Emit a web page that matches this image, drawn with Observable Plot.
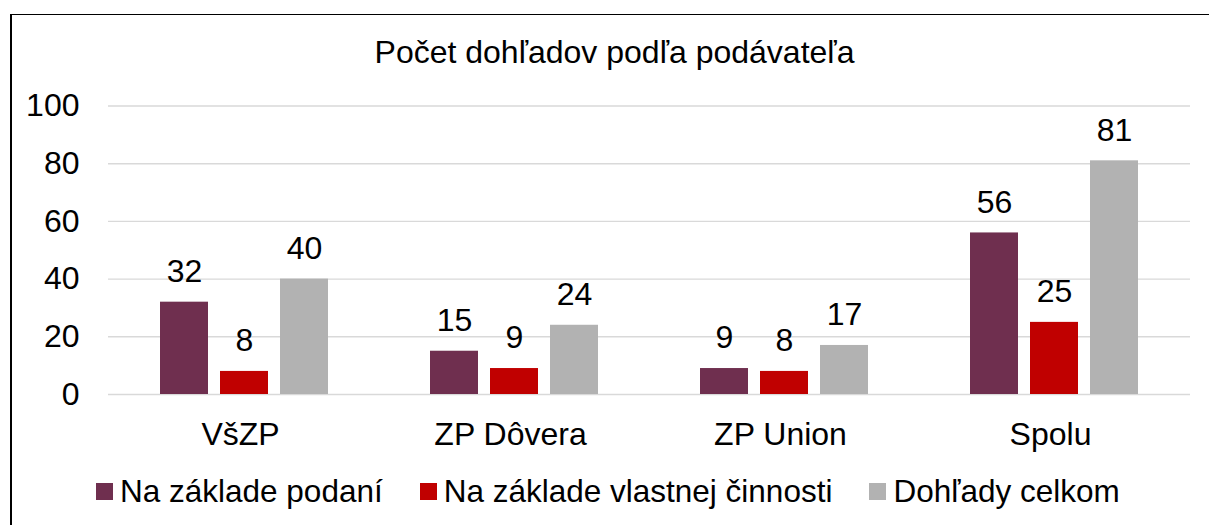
<!DOCTYPE html>
<html>
<head>
<meta charset="utf-8">
<script src="https://cdn.jsdelivr.net/npm/d3@7"></script>
<script src="https://cdn.jsdelivr.net/npm/@observablehq/plot@0.6"></script>
<style>
  body { margin: 0; background: #fff; }
  #wrap { position: relative; width: 1209px; height: 525px; overflow: hidden;
          font-family: "Liberation Sans", Arial, sans-serif; color: #000; background: #fff; }
  #border { position: absolute; left: 9.5px; top: 14px; width: 1300px; height: 600px;
            border-top: 1.5px solid #000; border-left: 2.5px solid #000; box-sizing: border-box; }
  #chart { position: absolute; left: 0; top: 0; }
  #title { position: absolute; left: 10px; width: 1209px; top: 36px; text-align: center;
           font-size: 32px; line-height: 32px; white-space: nowrap; }
  #legend { position: absolute; left: 96px; top: 475px; display: flex; align-items: center;
            font-size: 31.5px; line-height: 32px; white-space: nowrap; }
  .item { display: flex; align-items: center; margin-right: 37px; }
  .sw { width: 17px; height: 17px; margin-right: 7px; }
</style>
</head>
<body>
<div id="wrap">
  <div id="border"></div>
  <div id="chart"></div>
  <div id="title"></div>
  <div id="legend"></div>
</div>
<script>
const titleText = "Počet dohľadov podľa podávateľa";
const categories = ["VšZP", "ZP Dôvera", "ZP Union", "Spolu"];
const seriesNames = ["Na základe podaní", "Na základe vlastnej činnosti", "Dohľady celkom"];
const seriesColors = ["#6F2F4F", "#C00000", "#B2B2B2"];
const naZakladePodani = [32, 15, 9, 56];
const vlastnejCinnosti = [8, 9, 8, 25];
const dohladyCelkom = [40, 24, 17, 81];
const yTicks = [0, 20, 40, 60, 80, 100];

const seriesValues = [naZakladePodani, vlastnejCinnosti, dohladyCelkom];
const rows = [];
seriesNames.forEach((s, k) => {
  categories.forEach((c, i) => rows.push({ cat: c, series: s, value: seriesValues[k][i], k }));
});

const font = '"Liberation Sans", Arial, sans-serif';
const barStep = 60;

const chart = Plot.plot({
  width: 1209,
  height: 460,
  marginLeft: 108,
  marginRight: 19,
  marginTop: 105.5,
  marginBottom: 66,
  style: { fontFamily: font, fontSize: "32px", color: "#000", background: "transparent", overflow: "visible" },
  x: { domain: categories, paddingInner: 0.8226, paddingOuter: 0.4113, label: null },
  y: { domain: [0, 100], label: null },
  color: { domain: seriesNames, range: seriesColors },
  marks: [
    Plot.ruleY(yTicks, { stroke: "#D9D9D9", strokeWidth: 1.4 }),
    ...seriesNames.map((s, k) =>
      Plot.barY(rows.filter(d => d.series === s), { x: "cat", y: "value", fill: "series", dx: (k - 1) * barStep })
    ),
    ...seriesNames.map((s, k) =>
      Plot.text(rows.filter(d => d.series === s), { x: "cat", y: "value", text: d => String(d.value),
        dx: (k - 1) * barStep, dy: -30.5, fill: "#000", fontSize: 32 })
    ),
    Plot.axisX({ tickSize: 0, tickPadding: 28, fontSize: 32, dx: -4 }),
    Plot.axisY({ ticks: yTicks, tickSize: 0, tickPadding: 29, fontSize: 32 })
  ]
});
document.getElementById("chart").appendChild(chart);

document.getElementById("title").textContent = titleText;
const legend = document.getElementById("legend");
seriesNames.forEach((s, k) => {
  const item = document.createElement("div");
  item.className = "item";
  const sw = document.createElement("div");
  sw.className = "sw";
  sw.style.background = seriesColors[k];
  const label = document.createElement("span");
  label.textContent = s;
  item.appendChild(sw);
  item.appendChild(label);
  legend.appendChild(item);
});
</script>
</body>
</html>
